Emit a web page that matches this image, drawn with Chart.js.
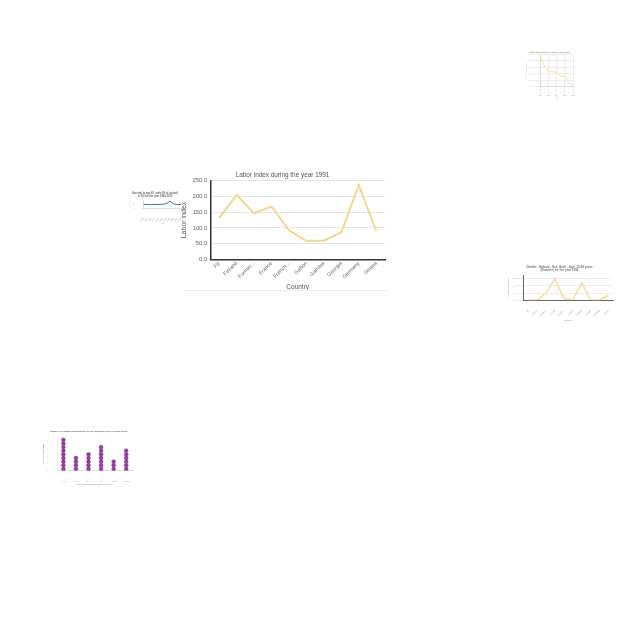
<!DOCTYPE html>
<html>
<head>
<meta charset="utf-8">
<script src="https://cdn.jsdelivr.net/npm/chart.js@4.4.0/dist/chart.umd.min.js"></script>
<style>
  html, body { margin: 0; padding: 0; background: #ffffff; width: 640px; height: 640px; overflow: hidden; }
  .box { position: absolute; }
  .box canvas { display: block; }
  #mainRule { position: absolute; left: 183px; top: 290px; width: 203px; height: 0; border-top: 1px solid #ececec; }
</style>
</head>
<body>
<div class="box" id="mainBox" style="left:180px; top:166px; width:207px; height:125px;"><canvas id="main"></canvas></div>
<div id="mainRule"></div>
<div class="box" style="left:524px; top:49px; width:51px; height:51px;"><canvas id="t1"></canvas></div>
<div class="box" style="left:126px; top:190px; width:58px; height:37px;"><canvas id="t2"></canvas></div>
<div class="box" style="left:505px; top:263px; width:109px; height:61px;"><canvas id="t3"></canvas></div>
<div class="box" style="left:40px; top:427px; width:97px; height:60px;"><canvas id="t4"></canvas></div>
<script>
// ---- Main chart data ----
const countries = ["Fiji", "Finland", "Former...", "France", "French...", "Gabon", "Gambia", "Georgia", "Germany", "Ghana"];
const laborIndex = [132, 204, 146, 168, 92, 59, 59, 86, 236, 90];
const yTickMax = 250;
const yTickStep = 50;

// ---- Thumbnail data ----
const t1Years = ["1990", "1991", "1992", "1993", "1994", "1995", "1996", "1997", "1998"];
const t1Values = [95, 62, 45, 46, 44, 30, 34, 10, 4];

const t2Years = ["1960", "1965", "1970", "1975", "1980", "1985", "1990", "1995", "2000", "2005", "2010"];
const t2Values = [22, 22, 21, 22, 22, 23, 26, 40, 24, 22, 22];

const t3Countries = ["Fiji", "Finland", "Former...", "France", "French...", "Gabon", "Gambia", "Georgia", "Germany", "Ghana"];
const t3Values = [0, 0, 4, 12, 1, 0, 10, 0, 0, 3];

const t4Groups = ["1-2", "3-4", "5-6", "7-8", "9-10", "11-12"];
const t4Counts = [9, 4, 5, 7, 3, 6];

Chart.defaults.font.family = "'Liberation Sans', Arial, sans-serif";
Chart.defaults.animation = false;
Chart.defaults.responsive = true;
Chart.defaults.maintainAspectRatio = false;
Chart.defaults.plugins.legend.display = false;
Chart.defaults.plugins.tooltip.enabled = false;

// ---- Main chart ----
new Chart(document.getElementById('main'), {
  type: 'line',
  data: {
    labels: countries,
    datasets: [{
      data: laborIndex,
      borderColor: '#f3d78e',
      borderWidth: 2,
      pointRadius: 0,
      tension: 0,
      fill: false
    }]
  },
  options: {
    layout: { padding: { left: 0, right: 2, top: 0, bottom: 0 } },
    plugins: {
      title: {
        display: true,
        text: 'Labor index during the year 1991',
        color: '#555',
        font: { size: 6.4, weight: 'normal' },
        padding: { top: 5, bottom: 2 }
      }
    },
    scales: {
      x: {
        offset: true,
        grid: { display: false, drawTicks: false },
        border: { display: true, color: '#333', width: 1.5 },
        ticks: { color: '#666', font: { size: 5.3 }, maxRotation: 45, minRotation: 45, padding: 1, autoSkip: false },
        title: { display: true, text: 'Country', color: '#555', font: { size: 6.5 }, padding: { top: 2, bottom: 0 } }
      },
      y: {
        min: 0,
        max: yTickMax,
        grid: { color: '#e6e6e6', drawTicks: false, lineWidth: 1 },
        border: { display: true, color: '#333', width: 1.5 },
        ticks: { stepSize: yTickStep, color: '#666', font: { size: 6 }, padding: 3, callback: v => Number(v).toFixed(1) },
        title: { display: true, text: 'Labor index', color: '#555', font: { size: 7 }, padding: { top: 0, bottom: 1 } }
      }
    }
  }
});

// ---- Thumbnail 1 (top right) ----
new Chart(document.getElementById('t1'), {
  type: 'line',
  data: { labels: t1Years, datasets: [{ data: t1Values, borderColor: '#f3e0a8', borderWidth: 1, pointRadius: 0, tension: 0 }] },
  options: {
    layout: { padding: 1 },
    plugins: { title: { display: true, text: 'Urban population (% of total) in 1990-1998', color: '#888', font: { size: 2 }, padding: 1 } },
    scales: {
      x: { grid: { color: '#ececec' }, border: { color: '#ccc', width: 0.5 }, ticks: { color: '#aaa', font: { size: 1.8 }, maxRotation: 0, padding: 0 },
           title: { display: true, text: 'Year', color: '#aaa', font: { size: 2 }, padding: 0 } },
      y: { min: 0, max: 100, grid: { color: '#ececec' }, border: { color: '#ccc', width: 0.5 }, ticks: { color: '#aaa', font: { size: 1.8 }, stepSize: 20, padding: 1 },
           title: { display: true, text: 'Urban population', color: '#aaa', font: { size: 2 }, padding: 0 } }
    }
  }
});

// ---- Thumbnail 2 (left) ----
new Chart(document.getElementById('t2'), {
  type: 'line',
  data: { labels: t2Years, datasets: [{ data: t2Values, borderColor: '#4a6aa5', borderWidth: 1, pointRadius: 0, tension: 0 }] },
  options: {
    layout: { padding: 1 },
    plugins: { title: { display: true, text: ['Survival to age 65, male (% of cohort)', 'in Fiji for the year 1960-2010'], color: '#666', font: { size: 2.6 }, padding: { top: 1, bottom: 2 } } },
    scales: {
      x: { grid: { display: false }, border: { color: '#bbb', width: 0.5 }, ticks: { color: '#aaa', font: { size: 2 }, minRotation: 45, maxRotation: 45, padding: 1, autoSkip: false },
           title: { display: true, text: 'Year', color: '#aaa', font: { size: 2 }, padding: 1 } },
      y: { min: 0, max: 45, grid: { display: false }, border: { color: '#bbb', width: 0.5 }, ticks: { color: '#aaa', font: { size: 2 }, stepSize: 15, padding: 1 },
           title: { display: true, text: 'Survival', color: '#d9c070', font: { size: 2 }, padding: 1 } }
    }
  }
});

// ---- Thumbnail 3 (right) ----
new Chart(document.getElementById('t3'), {
  type: 'line',
  data: { labels: t3Countries, datasets: [{ data: t3Values, borderColor: '#f3d78e', borderWidth: 1.3, pointRadius: 0, tension: 0 }] },
  options: {
    layout: { padding: 1 },
    plugins: { title: { display: true, text: ['Deaths - Malaria - Sex: Both - Age: 15-49 years', '(Number) for the year 1993'], color: '#777', font: { size: 3 }, padding: { top: 1, bottom: 3 } } },
    scales: {
      x: { offset: true, grid: { display: false }, border: { color: '#444', width: 0.8 }, ticks: { color: '#999', font: { size: 2.1 }, minRotation: 45, maxRotation: 45, padding: 1, autoSkip: false },
           title: { display: true, text: 'Country', color: '#999', font: { size: 2.5 }, padding: 1 } },
      y: { min: 0, max: 14, grid: { color: '#ececec' }, border: { color: '#444', width: 0.8 }, ticks: { color: '#999', font: { size: 2.5 }, stepSize: 2, padding: 1 },
           title: { display: true, text: 'Number of deaths', color: '#999', font: { size: 2.5 }, padding: 1 } }
    }
  }
});

// ---- Thumbnail 4 (bottom left, dot columns) ----
const t4Points = [];
t4Groups.forEach((g, i) => { for (let k = 0; k < t4Counts[i]; k++) t4Points.push({ x: g, y: k + 0.5 }); });
new Chart(document.getElementById('t4'), {
  type: 'scatter',
  data: { datasets: [{ data: t4Points, backgroundColor: '#9b3da6', borderColor: '#7a2a85', borderWidth: 0.5, pointRadius: 1.9 }] },
  options: {
    layout: { padding: 1 },
    plugins: { title: { display: true, text: 'Number of existing households (N) for Religious type of households', color: '#666', font: { size: 2.4 }, padding: { top: 2, bottom: 4 } } },
    scales: {
      x: { type: 'category', labels: t4Groups, offset: true, grid: { display: false }, border: { color: '#bbb', width: 0.5 }, ticks: { color: '#888', font: { size: 2.2 }, padding: 1 },
           title: { display: true, text: 'Size of household (Number of people)', color: '#888', font: { size: 2.2 }, padding: 0 } },
      y: { min: 0, max: 9.3, grid: { display: false }, border: { color: '#ddd', width: 0.5 }, ticks: { color: '#aaa', font: { size: 2 }, stepSize: 1, padding: 1 },
           title: { display: true, text: 'No. of households', color: '#888', font: { size: 2.5 }, padding: 1 } }
    }
  }
});
</script>
</body>
</html>
